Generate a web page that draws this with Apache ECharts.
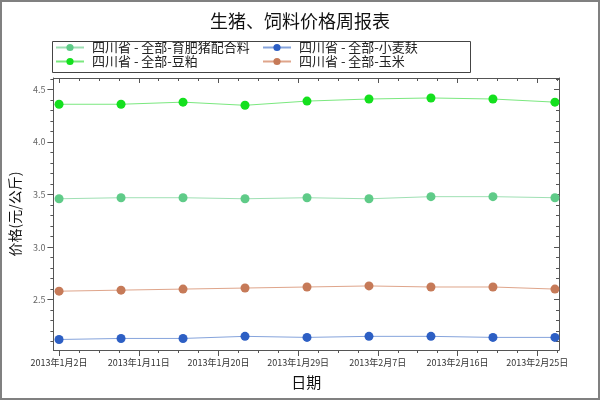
<!DOCTYPE html>
<html>
<head>
<meta charset="utf-8">
<script src="https://cdn.jsdelivr.net/npm/echarts@6/dist/echarts.min.js"></script>
<style>
html,body{margin:0;padding:0;background:#fff;}
#wrap{position:relative;width:600px;height:400px;}
#chart{width:600px;height:400px;}
#frame{position:absolute;left:0;top:0;width:600px;height:400px;box-sizing:border-box;border:2px solid #808080;pointer-events:none;}
</style>
</head>
<body>
<div id="wrap"><div id="chart"></div><div id="frame"></div></div>
<script>
// ---- data ----
const dates = ['2013-01-02','2013-01-09','2013-01-16','2013-01-23','2013-01-30','2013-02-06','2013-02-13','2013-02-20','2013-02-27'];
const seriesNames = ['四川省 - 全部-育肥猪配合料','四川省 - 全部-豆粕','四川省 - 全部-小麦麸','四川省 - 全部-玉米'];
const feedMix  = [3.46, 3.47, 3.47, 3.46, 3.47, 3.46, 3.48, 3.48, 3.47];
const soyMeal  = [4.36, 4.36, 4.38, 4.35, 4.39, 4.41, 4.42, 4.41, 4.38];
const wheatBran= [2.12, 2.13, 2.13, 2.15, 2.14, 2.15, 2.15, 2.14, 2.14];
const corn     = [2.58, 2.59, 2.60, 2.61, 2.62, 2.63, 2.62, 2.62, 2.60];
const xTickDates = ['2013-01-02','2013-01-11','2013-01-20','2013-01-29','2013-02-07','2013-02-16','2013-02-25'];
const yTickValues = [2.5, 3.0, 3.5, 4.0, 4.5];

// ---- helpers ----
const DAY = 86400000;
const t0 = Date.parse(dates[0] + 'T00:00:00Z');
const dayOf = s => (Date.parse(s + 'T00:00:00Z') - t0) / DAY;
const xDays = dates.map(dayOf);
const xMajor = xTickDates.map(dayOf);
const xMinor = [];
for (let i = 0; i <= 25; i++) xMinor.push(i * 2.25);
const yMinor = [];
for (let i = 21; i <= 46; i++) yMinor.push(+(i / 10).toFixed(1));
const fmtDate = v => {
  const d = new Date(t0 + Math.round(v) * DAY);
  return d.getUTCFullYear() + '年' + (d.getUTCMonth() + 1) + '月' + d.getUTCDate() + '日';
};
const pair = arr => arr.map((v, i) => [xDays[i], v]);

const XMIN = -0.64, XMAX = 56.46, YMIN = 2.02, YMAX = 4.61;
const FONT = '"Noto Sans CJK SC", "Noto Sans", sans-serif';
const axisCol = '#555';

const xAxes = [
  { type:'value', position:'bottom', min:XMIN, max:XMAX,
    axisLine:{show:true, onZero:false, lineStyle:{color:axisCol}},
    axisTick:{show:true, length:6, customValues:xMajor, lineStyle:{color:axisCol}},
    axisLabel:{show:true, customValues:xMajor, formatter:fmtDate, fontSize:9, color:'#333', fontFamily:FONT, margin:8},
    splitLine:{show:false},
    name:'日期', nameLocation:'middle', nameGap:25,
    nameTextStyle:{fontSize:15, color:'#111', fontFamily:FONT}
  },
  { type:'value', position:'bottom', min:XMIN, max:XMAX,
    axisLine:{show:false, onZero:false},
    axisTick:{show:true, length:3, customValues:xMinor, lineStyle:{color:axisCol}},
    axisLabel:{show:false}, splitLine:{show:false}
  },
  { type:'value', position:'top', min:XMIN, max:XMAX,
    axisLine:{show:true, onZero:false, lineStyle:{color:axisCol}},
    axisTick:{show:true, inside:true, length:5, customValues:xMajor, lineStyle:{color:axisCol}},
    axisLabel:{show:false}, splitLine:{show:false}
  },
  { type:'value', position:'top', min:XMIN, max:XMAX,
    axisLine:{show:false, onZero:false},
    axisTick:{show:true, inside:true, length:3, customValues:xMinor, lineStyle:{color:axisCol}},
    axisLabel:{show:false}, splitLine:{show:false}
  }
];
const yAxes = [
  { type:'value', position:'left', min:YMIN, max:YMAX,
    axisLine:{show:true, onZero:false, lineStyle:{color:axisCol}},
    axisTick:{show:true, length:6, customValues:yTickValues, lineStyle:{color:axisCol}},
    axisLabel:{show:true, customValues:yTickValues, formatter:v => v.toFixed(1), fontSize:9, color:'#666', fontFamily:FONT, margin:8},
    splitLine:{show:false},
    name:'价格(元/公斤)', nameLocation:'middle', nameGap:27, nameRotate:90,
    nameTextStyle:{fontSize:14, color:'#111', fontFamily:FONT}
  },
  { type:'value', position:'left', min:YMIN, max:YMAX,
    axisLine:{show:false, onZero:false},
    axisTick:{show:true, length:3, customValues:yMinor, lineStyle:{color:axisCol}},
    axisLabel:{show:false}, splitLine:{show:false}
  },
  { type:'value', position:'right', min:YMIN, max:YMAX,
    axisLine:{show:true, onZero:false, lineStyle:{color:axisCol}},
    axisTick:{show:true, inside:true, length:5, customValues:yTickValues, lineStyle:{color:axisCol}},
    axisLabel:{show:false}, splitLine:{show:false}
  },
  { type:'value', position:'right', min:YMIN, max:YMAX,
    axisLine:{show:false, onZero:false},
    axisTick:{show:true, inside:true, length:3, customValues:yMinor, lineStyle:{color:axisCol}},
    axisLabel:{show:false}, splitLine:{show:false}
  }
];

const mk = (name, data, dot, line) => ({
  name, type:'line', data:pair(data), xAxisIndex:0, yAxisIndex:0,
  symbol:'circle', symbolSize:9, showSymbol:true,
  itemStyle:{color:dot}, lineStyle:{color:line, width:1},
  emphasis:{disabled:true}, animation:false
});

const legendCommon = {
  orient:'vertical', top:41, itemWidth:28, itemHeight:9, itemGap:1,
  textStyle:{fontSize:13, color:'#222', fontFamily:FONT, lineHeight:13, padding:[0,0,0,3]},
  padding:0
};

const chart = echarts.init(document.getElementById('chart'), null, {renderer:'canvas'});
chart.setOption({
  backgroundColor:'#fff',
  animation:false,
  title:{text:'生猪、饲料价格周报表', left:'center', top:7,
    textStyle:{fontSize:18, fontWeight:'normal', color:'#111', fontFamily:FONT}},
  legend:[
    Object.assign({}, legendCommon, {left:55, data:[seriesNames[0], seriesNames[1]]}),
    Object.assign({}, legendCommon, {left:262, data:[seriesNames[2], seriesNames[3]]})
  ],
  graphic:[{type:'rect', left:50, top:39, shape:{width:418, height:31},
    style:{fill:'none', stroke:'#444', lineWidth:1}, silent:true}],
  grid:{left:52, right:41, top:78, bottom:50, containLabel:false},
  xAxis:xAxes,
  yAxis:yAxes,
  series:[
    mk(seriesNames[0], feedMix, '#5fcb88', '#9fe0b4'),
    mk(seriesNames[1], soyMeal, '#14e01e', '#7be87f'),
    mk(seriesNames[2], wheatBran, '#2d5fc4', '#86a4dc'),
    mk(seriesNames[3], corn, '#c67a58', '#dfa58b')
  ]
});
</script>
</body>
</html>
